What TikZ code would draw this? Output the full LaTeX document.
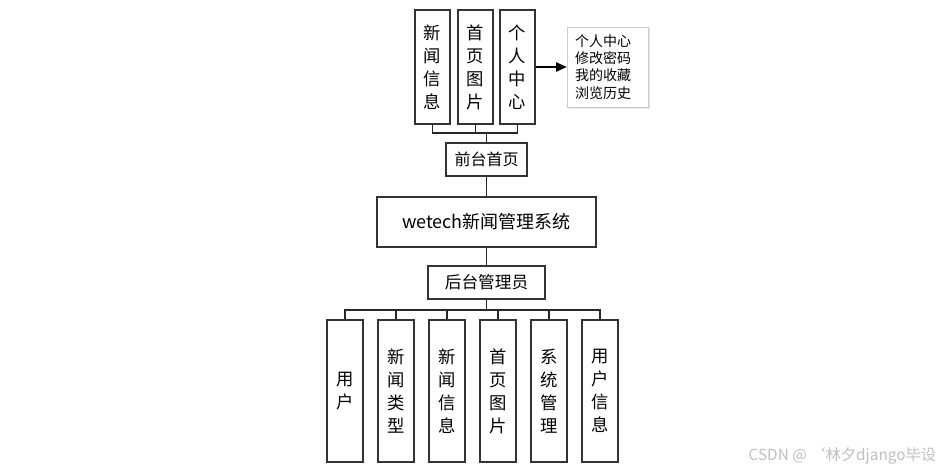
\documentclass[tikz,border=0pt]{standalone}
\usepackage{fontspec}
\setmainfont{Noto Sans CJK SC}
\usetikzlibrary{arrows.meta, shadows}

\begin{document}
\begin{tikzpicture}[x=0.75pt, y=-0.75pt,
  box/.style={draw=black!80, line width=1.1pt, inner sep=0pt, align=center, fill=white},
  topbox/.style={box, minimum width=26.25pt, minimum height=85.5pt, font=\fontsize{13}{17.25}\selectfont},
  lowbox/.style={box, minimum width=27pt, minimum height=106.5pt, font=\fontsize{13}{17.25}\selectfont},
  notebox/.style={draw=black!20, fill=white, inner xsep=6pt, inner ysep=0pt, align=left,
    text width=48.75pt, minimum height=60pt, font=\fontsize{10.5}{13}\selectfont,
    drop shadow={opacity=0.2, shadow xshift=1.5pt, shadow yshift=-1.5pt}},
  link/.style={draw=black!85, line width=0.8pt}]

\useasboundingbox (0,0) rectangle (947,471);

% front end: three boxes on top
\node[topbox] (xwxx) at (432.5,67) {新\\闻\\信\\息};
\node[topbox] (sytp) at (475.5,67) {首\\页\\图\\片};
\node[topbox] (grzx) at (517.5,67) {个\\人\\中\\心};
\node[notebox] (grnote) at (607.5,67) {个人中心\\修改密码\\我的收藏\\浏览历史};
\draw[-{Triangle[length=8pt,width=7pt]}, line width=1pt] (grzx.east) -- (grnote.west);

% middle column
\node[box, minimum width=60.75pt, minimum height=24.75pt, font=\fontsize{12}{13}\selectfont] (qtsy) at (486.5,159.5) {前台首页};
\node[box, minimum width=164.25pt, minimum height=37.5pt, font=\fontsize{13.5}{15}\selectfont] (main) at (486.5,222) {wetech新闻管理系统};
\node[box, minimum width=87.75pt, minimum height=24.75pt, font=\fontsize{12.5}{13}\selectfont] (htgl) at (486.5,282.5) {后台管理员};

\coordinate (qt) at (qtsy.north |- 0,133);
\draw[link] (xwxx.south) |- (qt) -| (grzx.south);
\draw[link] (sytp.south) -- (sytp.south |- qt);
\draw[link] (qt) -- (qtsy.north);
\draw[link] (qtsy.south) -- (main.north);
\draw[link] (main.south) -- (htgl.north);

% back end: six boxes at the bottom
\node[lowbox] (yh)   at (345,391) {用\\户};
\node[lowbox] (xwlx) at (396,391) {新\\闻\\类\\型};
\node[lowbox] (xwxx2) at (447,391) {新\\闻\\信\\息};
\node[lowbox] (sytp2) at (498,391) {首\\页\\图\\片};
\node[lowbox] (xtgl) at (549,391) {系\\统\\管\\理};
\node[lowbox] (yhxx) at (600,391) {用\\户\\信\\息};

\coordinate (ht) at (htgl.south |- 0,310);
\draw[link] (htgl.south) -- (ht);
\foreach \n in {yh, xwlx, xwxx2, sytp2, xtgl, yhxx} {
  \draw[link] (ht) -| (\n.north);
}

\node[anchor=east, text=black!25, font=\fontsize{11.5}{12}\selectfont] (mark) at (941,456) {CSDN @ ‘林夕django毕设};
\end{tikzpicture}
\end{document}
